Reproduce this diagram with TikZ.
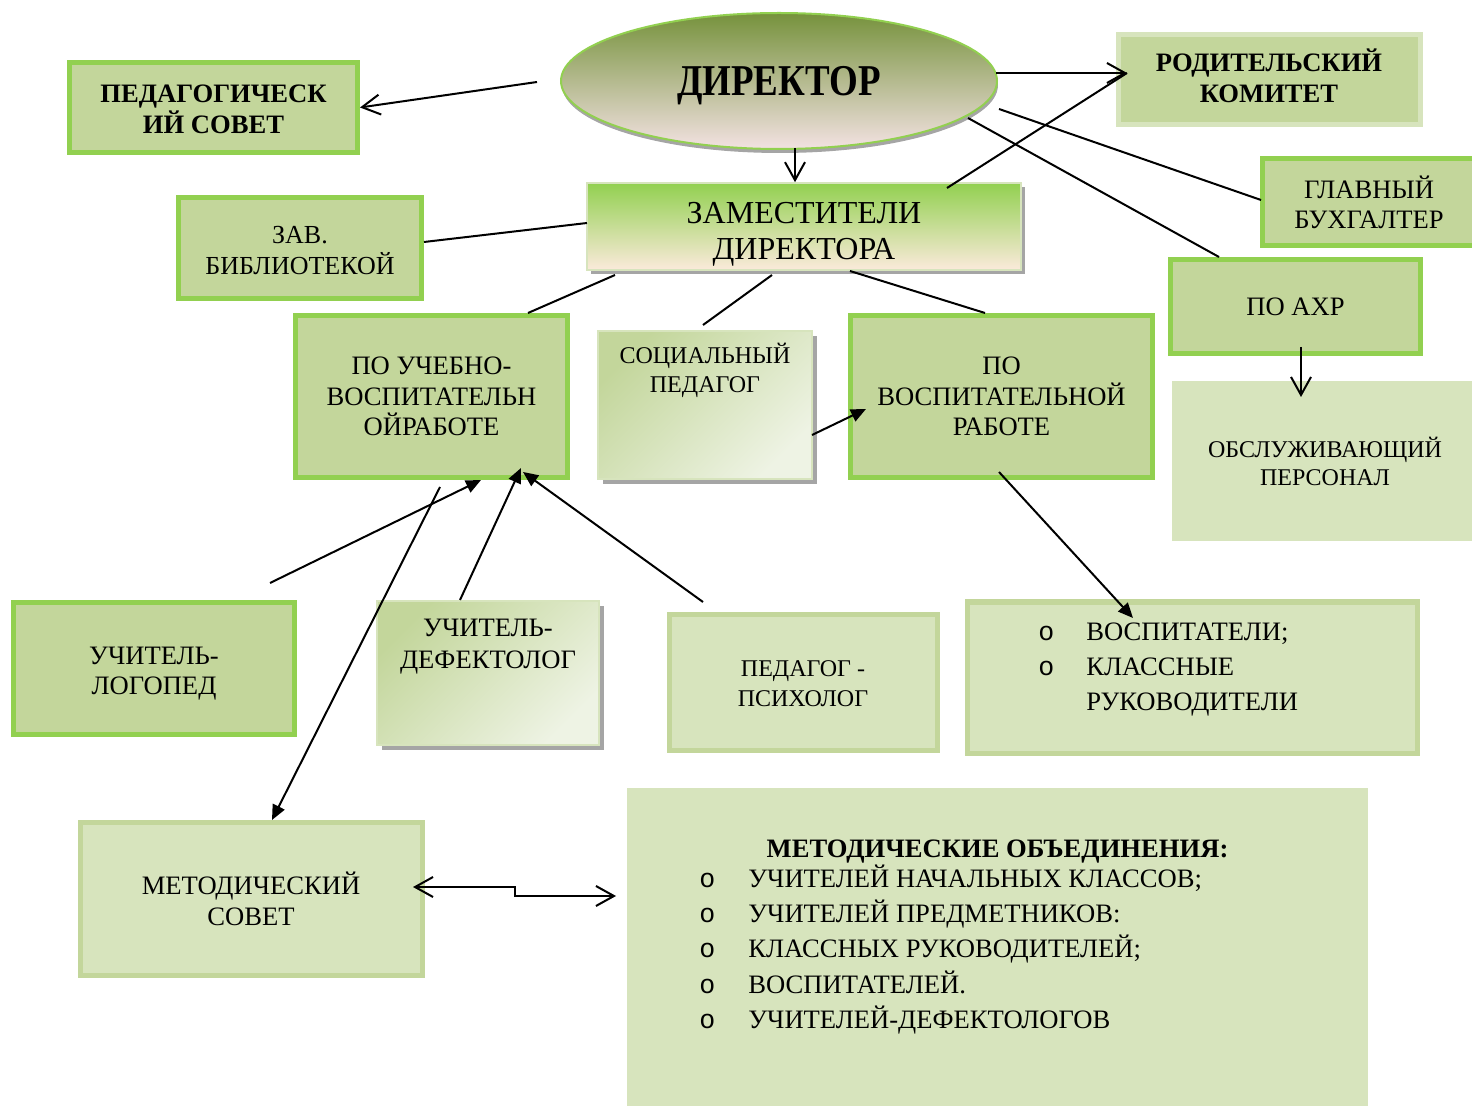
\documentclass[tikz,border=0pt]{standalone}
\usepackage{fontspec}
\setmainfont{Liberation Serif}
\newfontfamily\dirfont[FakeStretch=0.84]{Liberation Serif}
\newfontfamily\bulfont{Liberation Mono}
\usetikzlibrary{shapes.geometric,shadows,arrows.meta}
\definecolor{bgreen}{HTML}{92D050}
\definecolor{midg}{HTML}{C3D69B}
\definecolor{lightg}{HTML}{D7E4BD}
\definecolor{paleg}{HTML}{EEF3E4}
\definecolor{oliveg}{HTML}{76923C}
\definecolor{pinkish}{HTML}{F3E2E2}
\definecolor{peach}{HTML}{FBEADB}
\definecolor{zammid}{HTML}{D3E6BC}
\definecolor{shadowg}{HTML}{A5A5A5}
\tikzset{
  ln/.style={line width=1pt, draw=black},
  oarr/.style={ln, -{Straight Barb[length=9pt,width=10pt]}},
  darr/.style={ln, {Straight Barb[length=9pt,width=10pt]}-{Straight Barb[length=9pt,width=10pt]}},
  farr/.style={ln, -{Triangle[length=7.5pt,width=6.5pt]}},
  txt/.style={align=center, inner sep=0pt, font=\fontsize{13.3}{15.5}\selectfont},
  gbox/.style={rectangle, draw=bgreen, line width=2.5pt, fill=midg, txt},
  lbox/.style={rectangle, draw=midg, line width=2.5pt, fill=lightg, txt},
  rbox/.style={rectangle, draw=lightg, line width=2.5pt, fill=midg, txt},
  fbox/.style={rectangle, draw=none, fill=lightg, txt},
  sbox/.style={rectangle, draw=lightg, line width=0.8pt, inner sep=0pt,
     drop shadow={shadow xshift=2.5pt, shadow yshift=-2.5pt, fill=shadowg, opacity=1},
     left color=midg, right color=paleg, shading angle=45},
  bul/.style={inner sep=0pt, font=\fontsize{13.3}{17.7}\selectfont}
}
\newcommand{\bl}{\bulfont o}
\newcommand{\up}[1]{\rule{0pt}{#1}}
\newcommand{\dn}[1]{\rule[-#1]{0pt}{#1}}
\begin{document}
\begin{tikzpicture}[x=0.5pt,y=-0.5pt]
\useasboundingbox (0,0) rectangle (1472,1106);

% boxes
\node[gbox, minimum width=144pt, minimum height=45pt, font=\bfseries\fontsize{13.3}{15.5}\selectfont] (ped) at (213.5,107.5) {\up{10.9pt}ПЕДАГОГИЧЕСК\\ИЙ СОВЕТ};

\node[ellipse, draw=bgreen, line width=1pt, top color=oliveg, bottom color=pinkish,
      minimum width=218pt, minimum height=68pt, inner sep=0pt, text depth=0pt,
      drop shadow={shadow xshift=0.5pt, shadow yshift=-2pt, fill=shadowg, opacity=1},
      font=\fontsize{22}{24}\selectfont] (dir) at (779,81) {\dirfont\bfseries ДИРЕКТОР};

\node[rbox, minimum width=151pt, minimum height=45pt, font=\bfseries\fontsize{13.3}{15.5}\selectfont] (rod) at (1269,80) {РОДИТЕЛЬСКИЙ\\КОМИТЕТ\dn{4pt}};

\node[gbox, minimum width=106.5pt, minimum height=43.5pt, font=\fontsize{13.3}{15}\selectfont] (glav) at (1369,202) {ГЛАВНЫЙ\\БУХГАЛТЕР};

\node[rectangle, draw=lightg, line width=0.8pt, inner sep=0pt, align=center,
      top color=bgreen, middle color=zammid, bottom color=peach,
      drop shadow={shadow xshift=2pt, shadow yshift=-2pt, fill=shadowg, opacity=1},
      minimum width=217pt, minimum height=43.5pt, font=\fontsize{16}{18}\selectfont] (zam) at (804,226.5) {\up{18.8pt}ЗАМЕСТИТЕЛИ\\ДИРЕКТОРА};

\node[gbox, minimum width=121.5pt, minimum height=50.5pt, font=\fontsize{13}{15.5}\selectfont] (zav) at (300,248) {\up{10.9pt}ЗАВ.\\БИБЛИОТЕКОЙ};

\node[gbox, minimum width=125pt, minimum height=47pt] (axr) at (1295.5,306.5) {ПО АХР};

\node[fbox, minimum width=150pt, minimum height=80pt, font=\fontsize{12}{14}\selectfont] (obsl) at (1322,461) {\hspace*{3pt}ОБСЛУЖИВАЮЩИЙ\\\hspace*{3pt}ПЕРСОНАЛ};

\node[gbox, minimum width=136pt, minimum height=81pt, font=\fontsize{13.3}{15.3}\selectfont] (uv) at (431.5,396.5) {ПО УЧЕБНО-\\ВОСПИТАТЕЛЬН\\ОЙРАБОТЕ};

\node[sbox, minimum width=107pt, minimum height=74pt] (soc) at (705,405) {};
\node[txt, font=\fontsize{12}{14.5}\selectfont] (soctext) at (705,370) {СОЦИАЛЬНЫЙ\\ПЕДАГОГ};

\node[gbox, minimum width=151pt, minimum height=81pt, font=\fontsize{13.3}{15.3}\selectfont] (vr) at (1001.5,396.5) {ПО\\ВОСПИТАТЕЛЬНОЙ\\РАБОТЕ};

\node[gbox, minimum width=140.5pt, minimum height=66pt, font=\fontsize{13.3}{15}\selectfont] (log) at (154,668.5) {\up{13.8pt}УЧИТЕЛЬ-\\ЛОГОПЕД};

\node[sbox, minimum width=111pt, minimum height=72pt] (def) at (488,673) {};
\node[txt, font=\fontsize{13.3}{16}\selectfont] (deftext) at (488,647) {УЧИТЕЛЬ-\\ДЕФЕКТОЛОГ};

\node[lbox, minimum width=134pt, minimum height=68pt, font=\fontsize{12}{15}\selectfont] (psi) at (803,682) {\up{10pt}ПЕДАГОГ -\\ПСИХОЛОГ};

\node[lbox, minimum width=225pt, minimum height=75.5pt] (vosp) at (1192.5,677.5) {};
\node[bul, anchor=base west] (vosplist) at (1038,640) {%
  \begin{tabular}[t]{@{}p{24pt}@{}l@{}}
  \bl & ВОСПИТАТЕЛИ;\\
  \bl & КЛАССНЫЕ\\
      & РУКОВОДИТЕЛИ
  \end{tabular}};

\node[lbox, minimum width=171pt, minimum height=76.5pt] (ms) at (251,898.5) {МЕТОДИЧЕСКИЙ\\СОВЕТ};

\node[fbox, minimum width=370.5pt, minimum height=159pt] (mo) at (997.5,947) {};
\node[txt, anchor=base, font=\bfseries\fontsize{13.3}{15}\selectfont] (motitle) at (997.5,857) {МЕТОДИЧЕСКИЕ ОБЪЕДИНЕНИЯ:};
\node[bul, anchor=base west] (molist) at (699,887) {%
  \begin{tabular}[t]{@{}p{24.5pt}@{}l@{}}
  \bl & УЧИТЕЛЕЙ НАЧАЛЬНЫХ КЛАССОВ;\\
  \bl & УЧИТЕЛЕЙ ПРЕДМЕТНИКОВ:\\
  \bl & КЛАССНЫХ РУКОВОДИТЕЛЕЙ;\\
  \bl & ВОСПИТАТЕЛЕЙ.\\
  \bl & УЧИТЕЛЕЙ-ДЕФЕКТОЛОГОВ
  \end{tabular}};

% connection points
\coordinate (dL) at (537,82);
\coordinate (dB) at (795,148);
\coordinate (dR) at (996,73);
\coordinate (dR2) at (999,109);
\coordinate (dR3) at (968,118);
\coordinate (rodTip) at (1127,73);
\coordinate (zTR) at (947,188);
\coordinate (zL) at (587,223);
\coordinate (zavR) at (424,242);
\coordinate (zB1) at (615,275);
\coordinate (uvT) at (528,313);
\coordinate (zB2) at (772,275);
\coordinate (socT) at (703,325);
\coordinate (zB3) at (850,271);
\coordinate (vrT) at (985,313);
\coordinate (glavL) at (1261,200);
\coordinate (axrT) at (1219,257);
\coordinate (axrB) at (1301,347);
\coordinate (obslT) at (1301,397);
\coordinate (socR) at (812,435);
\coordinate (vrL) at (866,409);
\coordinate (vrB) at (999,472);
\coordinate (vospT) at (1133,618);
\coordinate (logT) at (270,583);
\coordinate (uvB1) at (481,480);
\coordinate (defT) at (460,600);
\coordinate (uvB2) at (521,468);
\coordinate (psiT) at (703,602);
\coordinate (uvB3) at (523,472);
\coordinate (uvB0) at (440,487);
\coordinate (msT) at (272,820);
\coordinate (msR) at (413,887);
\coordinate (moL) at (616,896);

% connectors
\draw[oarr] (dL) -- (ped.east);
\draw[oarr] (dB) -- (dB |- zam.north);
\draw[oarr] (dR) -- (rodTip);
\draw[ln] (zTR) -- (rodTip);
\draw[ln] (dR2) -- (glavL);
\draw[ln] (dR3) -- (axrT);
\draw[ln] (zL) -- (zavR);
\draw[ln] (zB1) -- (uvT);
\draw[ln] (zB2) -- (socT);
\draw[ln] (zB3) -- (vrT);
\draw[oarr] (axrB) -- (obslT);
\draw[farr] (socR) -- (vrL);
\draw[farr] (vrB) -- (vospT);
\draw[farr] (logT) -- (uvB1);
\draw[farr] (defT) -- (uvB2);
\draw[farr] (psiT) -- (uvB3);
\draw[farr] (uvB0) -- (msT);
\draw[darr] (msR) -- (515,887) -- (515,896) -- (moL);
\end{tikzpicture}
\end{document}
